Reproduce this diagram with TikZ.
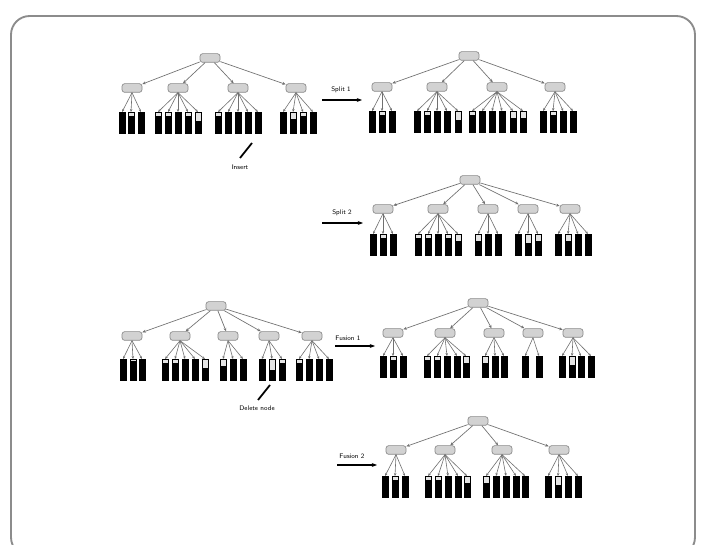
\documentclass[tikz,border=0pt]{standalone}
\usetikzlibrary{arrows.meta,calc}
\definecolor{framegray}{HTML}{8C8C8C}
\definecolor{nodefill}{HTML}{D2D2D2}
\definecolor{nodeline}{HTML}{8A8A8A}
\definecolor{edgegray}{HTML}{707070}
\definecolor{leaftop}{HTML}{E4E4E4}
\tikzset{
  inode/.style={rectangle, rounded corners=2pt, draw=nodeline, fill=nodefill, line width=0.5pt,
    minimum width=15pt, minimum height=6.5pt, inner sep=0pt},
  leafbar/.style={rectangle, draw=black, fill=leaftop, line width=0.4pt,
    minimum width=4.5pt, minimum height=16pt, inner sep=0pt, anchor=north},
  tedge/.style={draw=edgegray, line width=0.5pt, -{Stealth[length=2.6pt,width=2.2pt]}},
  ledge/.style={draw=edgegray, line width=0.45pt, -{Stealth[length=2.2pt,width=1.8pt]}},
  oparrow/.style={draw=black, line width=0.9pt, -{Stealth[length=4pt,width=3pt]}},
  pointer/.style={draw=black, line width=1.3pt},
  lbl/.style={font=\sffamily\fontsize{5}{6}\selectfont, inner sep=1pt}
}
% #1 name, #2 x, #3 y, #4 parent, #5 leaf top y, #6 list x/fraction
\newcommand\cgroup[6]{%
  \node[inode] (#1) at (#2,#3) {};
  \draw[tedge] (#4) -- (#1);
  \foreach \lx/\lf [count=\k] in {#6} {
    \node[leafbar] (#1l\k) at (\lx,#5) {};
    \fill[black] (#1l\k.south west) rectangle ($(#1l\k.south east)!\lf!(#1l\k.north east)$);
    \draw[ledge] (#1.south) -- (#1l\k.north);
  }%
}
\begin{document}
\begin{tikzpicture}[x=0.75pt,y=-0.75pt]
\useasboundingbox (0,0) rectangle (701,545);
\fill[white] (0,0) rectangle (701,545);
\draw[framegray, line width=1.4pt, rounded corners=14pt] (11,16) rectangle (695,556);

% ---------- Tree 1 (before insert)
\node[inode] (r1) at (210,58) {};
\cgroup{a1}{132}{88}{r1}{112}{122/1,131/0.8,141/1}
\cgroup{a2}{178}{88}{r1}{112}{158/0.8,168/0.8,178/1,188/0.8,198/0.6}
\cgroup{a3}{238}{88}{r1}{112}{218/0.8,228/1,238/1,248/1,258/1}
\cgroup{a4}{296}{88}{r1}{112}{283/1,293/0.7,303/0.8,313/1}
\node[lbl] (ins) at (240,167) {Insert};
\coordinate (insA) at (240,158);
\coordinate (insB) at (252,143);
\draw[pointer] (insA) -- (insB);

% ---------- Split 1
\coordinate (s1a) at (322,100);
\coordinate (s1b) at (362,100);
\draw[oparrow] (s1a) -- (s1b);
\node[lbl] (s1) at (341,90) {Split 1};

% ---------- Tree 2
\node[inode] (r2) at (469,56) {};
\cgroup{b1}{382}{87}{r2}{111}{372/1,382/0.8,392/1}
\cgroup{b2}{437}{87}{r2}{111}{417/1,427/0.8,437/1,447/1,458/0.6}
\cgroup{b3}{497}{87}{r2}{111}{472/0.8,482/1,492/1,502/1,513/0.7,523/0.7}
\cgroup{b4}{555}{87}{r2}{111}{543/1,553/0.8,563/1,573/1}

% ---------- Split 2
\coordinate (s2a) at (322,223);
\coordinate (s2b) at (363,223);
\draw[oparrow] (s2a) -- (s2b);
\node[lbl] (s2) at (342,213) {Split 2};

% ---------- Tree 3
\node[inode] (r3) at (470,180) {};
\cgroup{c1}{383}{209}{r3}{234}{373/1,383/0.8,393/1}
\cgroup{c2}{438}{209}{r3}{234}{418/0.8,428/0.8,438/1,448/0.8,458/0.7}
\cgroup{c3}{488}{209}{r3}{234}{478/0.7,488/1,498/1}
\cgroup{c4}{528}{209}{r3}{234}{518/1,528/0.6,538/0.7}
\cgroup{c5}{570}{209}{r3}{234}{558/1,568/0.7,578/1,588/1}

% ---------- Tree 4 (before delete)
\node[inode] (r4) at (216,306) {};
\cgroup{d1}{132}{336}{r4}{359}{123/1,133/0.9,142/1}
\cgroup{d2}{180}{336}{r4}{359}{165/0.8,175/0.8,185/1,195/1,205/0.6}
\cgroup{d3}{228}{336}{r4}{359}{223/0.7,233/1,243/1}
\cgroup{d4}{269}{336}{r4}{359}{262/1,272/0.5,282/0.8}
\cgroup{d5}{312}{336}{r4}{359}{299/0.8,309/1,319/1,329/1}
\node[lbl] (del) at (257,408) {Delete node};
\coordinate (delA) at (258,400);
\coordinate (delB) at (270,385);
\draw[pointer] (delA) -- (delB);

% ---------- Fusion 1
\coordinate (f1a) at (335,346);
\coordinate (f1b) at (375,346);
\draw[oparrow] (f1a) -- (f1b);
\node[lbl] (f1) at (348,338) {Fusion 1};

% ---------- Tree 5
\node[inode] (r5) at (478,303) {};
\cgroup{e1}{393}{333}{r5}{356}{383/1,393/0.8,403/1}
\cgroup{e2}{445}{333}{r5}{356}{427/0.8,437/0.8,447/1,457/1,466/0.7}
\cgroup{e3}{494}{333}{r5}{356}{485/0.7,495/1,504/1}
\cgroup{e4}{533}{333}{r5}{356}{525/1,539/1}
\cgroup{e5}{573}{333}{r5}{356}{562/1,572/0.6,581/1,591/1}

% ---------- Fusion 2
\coordinate (f2a) at (337,465);
\coordinate (f2b) at (377,465);
\draw[oparrow] (f2a) -- (f2b);
\node[lbl] (f2) at (352,456) {Fusion 2};

% ---------- Tree 6
\node[inode] (r6) at (478,421) {};
\cgroup{g1}{396}{450}{r6}{476}{385/1,395/0.8,405/1}
\cgroup{g2}{445}{450}{r6}{476}{428/0.8,438/0.8,448/1,458/1,467/0.7}
\cgroup{g3}{502}{450}{r6}{476}{486/0.7,496/1,506/1,516/1,525/1}
\cgroup{g4}{559}{450}{r6}{476}{548/1,558/0.6,568/1,578/1}
\end{tikzpicture}
\end{document}
